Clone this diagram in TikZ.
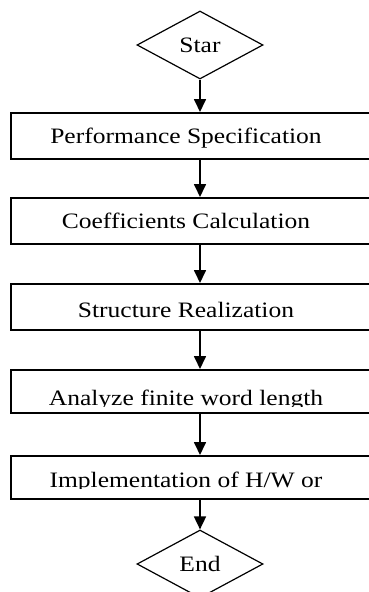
\documentclass[tikz,border=0pt]{standalone}
\usepackage{fontspec}
\setmainfont[FakeStretch=1.16]{Liberation Serif}
\usetikzlibrary{shapes.geometric,arrows.meta}

\tikzset{
  stepbox/.style={draw, line width=1.5pt, rectangle, minimum width=366pt,
    minimum height=46pt, inner sep=0pt, anchor=north west},
  steptext/.style={font=\fontsize{22}{26}\selectfont, inner sep=0pt, anchor=base},
  decision/.style={draw, line width=1.2pt, diamond, aspect=1.85,
    minimum width=126pt, minimum height=68pt, inner sep=0pt,
    font=\fontsize{22}{26}\selectfont},
  flow/.style={line width=1.7pt, -{Triangle[width=12pt,length=13pt]}}
}

\begin{document}
\begin{tikzpicture}[x=1pt, y=-1pt]
  \useasboundingbox (0,0) rectangle (369,592);
  \clip (0,0) rectangle (369,592);

  % terminal shapes
  \node[decision] (start) at (200,45) {Star};
  \node[decision] (end) at (200,564) {End};

  % process boxes
  \node[stepbox] (b1) at (10,112) {};
  \node[stepbox] (b2) at (10,197) {};
  \node[stepbox] (b3) at (10,283) {};
  \node[stepbox, minimum height=43pt] (b4) at (10,369) {};
  \node[stepbox, minimum height=43pt] (b5) at (10,455) {};

  % box captions
  \node[steptext] (t1) at (186,143) {Performance Specification};
  \node[steptext] (t2) at (186,228) {Coefficients Calculation};
  \node[steptext] (t3) at (186,317) {Structure Realization};
  \begin{scope}
    \clip (10,369) rectangle (369,406.5);
    \node[steptext] (t4) at (186,405) {Analyze finite word length};
  \end{scope}
  \begin{scope}
    \clip (10,455) rectangle (369,488);
    \node[steptext] (t5) at (186,487) {Implementation of H/W or};
  \end{scope}

  % connectors
  \draw[flow] (start.south) -- (b1.north -| start.south);
  \draw[flow] (b1.south -| start.south) -- (b2.north -| start.south);
  \draw[flow] (b2.south -| start.south) -- (b3.north -| start.south);
  \draw[flow] (b3.south -| start.south) -- (b4.north -| start.south);
  \draw[flow] (b4.south -| start.south) -- (b5.north -| start.south);
  \draw[flow] (b5.south -| start.south) -- (end.north);
\end{tikzpicture}
\end{document}
